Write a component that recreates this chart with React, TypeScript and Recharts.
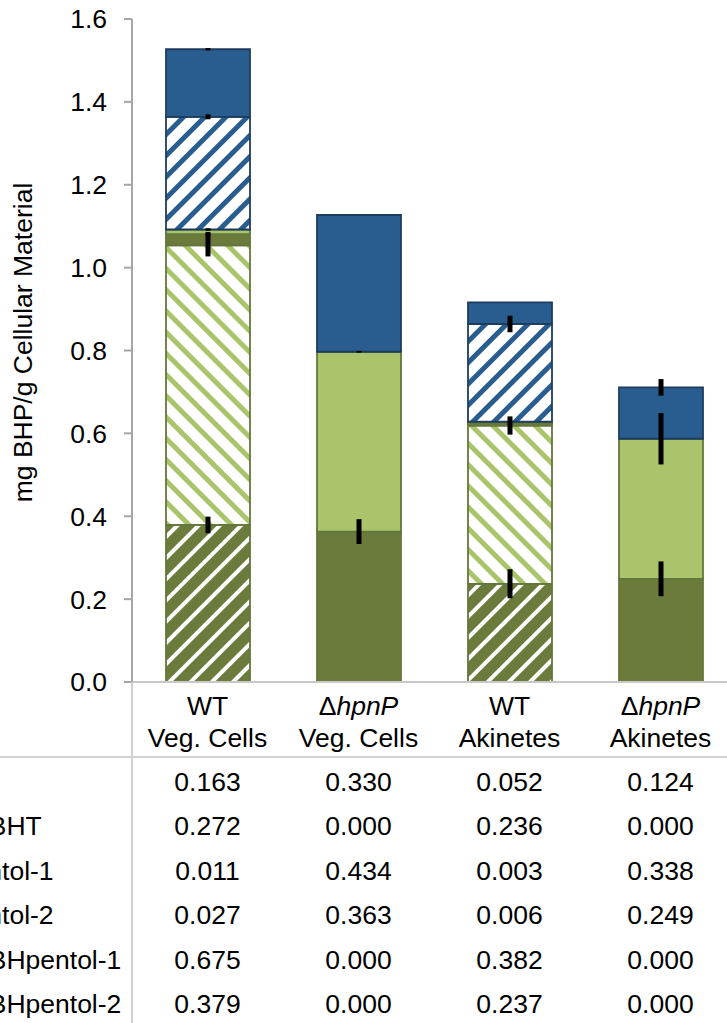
import React from 'react';
import { BarChart, Bar, XAxis, YAxis, ErrorBar } from 'recharts';

// ---- data ----
const strains = ['WT', 'ΔhpnP', 'WT', 'ΔhpnP'];
const cellTypes = ['Veg. Cells', 'Veg. Cells', 'Akinetes', 'Akinetes'];
const rowLabels = ['BHT', '2-Me BHT', 'BHpentol-1', 'BHpentol-2', '2-Me BHpentol-1', '2-Me BHpentol-2'];

const bht = [0.163, 0.33, 0.052, 0.124];
const meBht = [0.272, 0.0, 0.236, 0.0];
const bhpentol1 = [0.011, 0.434, 0.003, 0.338];
const bhpentol2 = [0.027, 0.363, 0.006, 0.249];
const meBhpentol1 = [0.675, 0.0, 0.382, 0.0];
const meBhpentol2 = [0.379, 0.0, 0.237, 0.0];

const errBht = [0.003, 0.0, 0.0, 0.02];
const errMeBht = [0.006, 0.0, 0.02, 0.0];
const errBhpentol1 = [0.003, 0.002, 0.0, 0.062];
const errBhpentol2 = [0.005, 0.03, 0.0, 0.042];
const errMeBhpentol1 = [0.027, 0.0, 0.022, 0.0];
const errMeBhpentol2 = [0.02, 0.0, 0.035, 0.0];

const yTicks = [0, 0.2, 0.4, 0.6, 0.8, 1.0, 1.2, 1.4, 1.6];

const tableRows = [bht, meBht, bhpentol1, bhpentol2, meBhpentol1, meBhpentol2];

const data = strains.map((s, i) => ({
  name: `${s} ${cellTypes[i]}`,
  meBhpentol2: meBhpentol2[i],
  eMeBhpentol2: errMeBhpentol2[i],
  meBhpentol1: meBhpentol1[i],
  eMeBhpentol1: errMeBhpentol1[i],
  bhpentol2: bhpentol2[i],
  eBhpentol2: errBhpentol2[i],
  bhpentol1: bhpentol1[i],
  eBhpentol1: errBhpentol1[i],
  meBht: meBht[i],
  eMeBht: errMeBht[i],
  bht: bht[i],
  eBht: errBht[i],
}));

// ---- styles ----
const BLUE = '#2A5D8F';
const NAVY = '#1D3D5F';
const LIGHT_GREEN = '#AAC46B';
const DARK_GREEN = '#6B7B3C';
const GREEN_BORDER = '#64773A';
const FONT = '"Liberation Sans", Arial, sans-serif';
const FS = 26.5;
const AXIS_LEFT = 132;

const series = [
  { key: 'meBhpentol2', err: 'eMeBhpentol2', fill: 'url(#hatchDark)', stroke: GREEN_BORDER },
  { key: 'meBhpentol1', err: 'eMeBhpentol1', fill: 'url(#hatchLight)', stroke: GREEN_BORDER },
  { key: 'bhpentol2', err: 'eBhpentol2', fill: DARK_GREEN, stroke: GREEN_BORDER },
  { key: 'bhpentol1', err: 'eBhpentol1', fill: LIGHT_GREEN, stroke: GREEN_BORDER },
  { key: 'meBht', err: 'eMeBht', fill: 'url(#hatchBlue)', stroke: NAVY },
  { key: 'bht', err: 'eBht', fill: BLUE, stroke: NAVY },
];

const StrainText = ({ x, y, label }: { x: number; y: number; label: string }) => {
  if (label.startsWith('Δ')) {
    return (
      <text x={x} y={y} textAnchor="middle" fontSize={FS} fill="#000">
        Δ<tspan fontStyle="italic">{label.slice(1)}</tspan>
      </text>
    );
  }
  return (
    <text x={x} y={y} textAnchor="middle" fontSize={FS} fill="#000">
      {label}
    </text>
  );
};

const CategoryTick = (props: any) => {
  const { x, y, payload } = props;
  const i = payload?.index ?? props.index ?? 0;
  const rowY = (r: number) => y + 109 + r * 44.4;
  return (
    <g>
      {i === 0 && (
        <g>
          <line x1={0} x2={760} y1={y + 75} y2={y + 75} stroke="#D0D0D0" strokeWidth={2} />
          <line x1={AXIS_LEFT} x2={AXIS_LEFT} y1={y} y2={y + 400} stroke="#D0D0D0" strokeWidth={2} />
          {rowLabels.map((lab, r) => (
            <text key={lab} x={-79} y={rowY(r)} textAnchor="start" fontSize={FS} fill="#000">
              {lab}
            </text>
          ))}
        </g>
      )}
      <StrainText x={x} y={y + 33} label={strains[i]} />
      <text x={x} y={y + 65} textAnchor="middle" fontSize={FS} fill="#000">
        {cellTypes[i]}
      </text>
      {tableRows.map((row, r) => (
        <text key={r} x={x} y={rowY(r)} textAnchor="middle" fontSize={FS} fill="#000">
          {row[i].toFixed(3)}
        </text>
      ))}
    </g>
  );
};

const YTitle = (props: any) => {
  const vb = props.viewBox || { x: 0, y: 19, width: 132, height: 663 };
  const cx = 32;
  const cy = vb.y + vb.height / 2 - 8;
  return (
    <text x={cx} y={cy} transform={`rotate(-90, ${cx}, ${cy})`} textAnchor="middle" fontSize={FS} fill="#000">
      mg BHP/g Cellular Material
    </text>
  );
};

export default function App() {
  return (
    <div
      style={{
        position: 'absolute',
        left: 0,
        top: 0,
        width: 727,
        height: 1023,
        overflow: 'hidden',
        background: '#fff',
        fontFamily: FONT,
      }}
    >
      <BarChart
        width={740}
        height={1023}
        data={data}
        margin={{ top: 19, right: 4, bottom: 0, left: 0 }}
        style={{ fontFamily: FONT }}
      >
        <defs>
          <pattern id="hatchBlue" patternUnits="userSpaceOnUse" width={15} height={15} patternTransform="rotate(45)">
            <rect width={15} height={15} fill="#fff" />
            <rect x={0} y={0} width={5} height={15} fill={BLUE} />
          </pattern>
          <pattern id="hatchLight" patternUnits="userSpaceOnUse" width={15} height={15} patternTransform="rotate(-45)">
            <rect width={15} height={15} fill="#fff" />
            <rect x={0} y={0} width={5} height={15} fill={LIGHT_GREEN} />
          </pattern>
          <pattern id="hatchDark" patternUnits="userSpaceOnUse" width={15} height={15} patternTransform="rotate(45)">
            <rect width={15} height={15} fill={DARK_GREEN} />
            <rect x={0} y={0} width={4} height={15} fill="#fff" />
          </pattern>
        </defs>
        <XAxis
          dataKey="name"
          height={341}
          interval={0}
          tickLine={false}
          tickSize={0}
          tickMargin={0}
          axisLine={{ stroke: '#C8C8C8', strokeWidth: 2 }}
          tick={<CategoryTick />}
        />
        <YAxis
          domain={[0, 1.6]}
          ticks={yTicks}
          type="number"
          width={AXIS_LEFT}
          tickFormatter={(v: number) => v.toFixed(1)}
          axisLine={{ stroke: '#A6A6A6', strokeWidth: 2 }}
          tickLine={{ stroke: '#A6A6A6', strokeWidth: 2 }}
          tickSize={8}
          tickMargin={17}
          tick={{ fill: '#000', fontSize: FS }}
          label={<YTitle />}
        />
        {series.map((s) => (
          <Bar
            key={s.key}
            dataKey={s.key}
            stackId="a"
            fill={s.fill}
            stroke={s.stroke}
            strokeWidth={1.8}
            barSize={84}
            isAnimationActive={false}
          >
            <ErrorBar dataKey={s.err} width={0} strokeWidth={5} stroke="#000" direction="y" />
          </Bar>
        ))}
      </BarChart>
    </div>
  );
}
